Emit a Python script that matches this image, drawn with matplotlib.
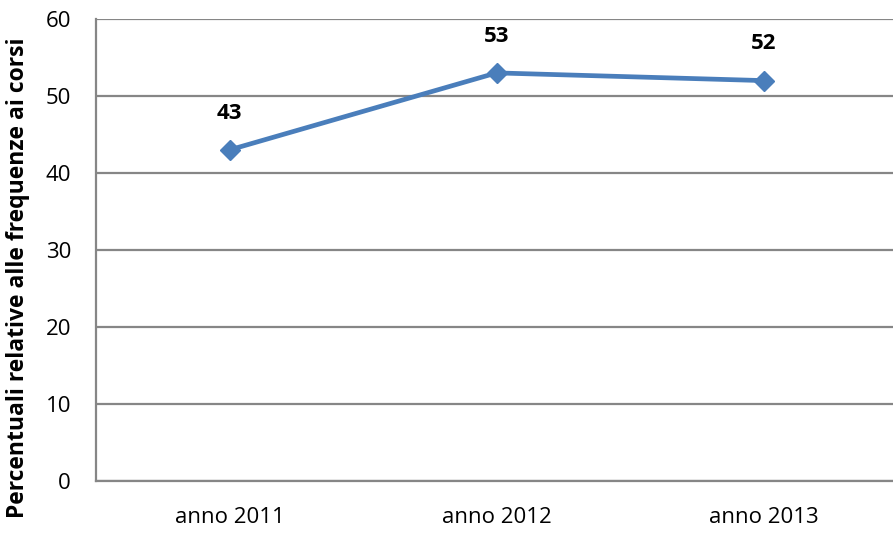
import matplotlib
matplotlib.use("Agg")
import matplotlib.pyplot as plt

categories = ["anno 2011", "anno 2012", "anno 2013"]
values = [43, 53, 52]
y_ticks = [0, 10, 20, 30, 40, 50, 60]

plt.rcParams["font.family"] = ["Open Sans", "DejaVu Sans"]

fig = plt.figure(figsize=(8.93, 5.33), dpi=100)
ax = fig.add_axes([96 / 893, 52 / 533, 801 / 893, 462 / 533])

x = list(range(len(categories)))
ax.plot(x, values, color="#4A7EBB", linewidth=3.4, marker="D",
        markersize=10, markerfacecolor="#4A7EBB", markeredgecolor="#4A7EBB",
        zorder=3)

for xi, v in zip(x, values):
    ax.annotate(str(v), (xi, v), xytext=(0, 19), textcoords="offset points",
                ha="center", va="bottom", fontsize=16, fontweight="bold",
                color="black")

ax.set_xlim(-0.5, len(categories) - 0.5)
ax.set_ylim(0, 60)
ax.set_yticks(y_ticks)
ax.set_xticks(x)
ax.set_xticklabels(categories)
ax.tick_params(axis="both", length=0, labelsize=16, colors="black")
ax.tick_params(axis="x", pad=19)
ax.tick_params(axis="y", pad=18)

ax.grid(axis="y", color="#868686", linewidth=1.6)
ax.set_axisbelow(True)
for side in ["top", "right"]:
    ax.spines[side].set_visible(False)
for side in ["left", "bottom"]:
    ax.spines[side].set_color("#868686")
    ax.spines[side].set_linewidth(1.6)

ax.set_ylabel("Percentuali relative alle frequenze ai corsi",
              fontsize=16.5, fontweight="bold")
ax.yaxis.set_label_coords(-0.082, 0.44)

fig.savefig("out.png", dpi=100)
